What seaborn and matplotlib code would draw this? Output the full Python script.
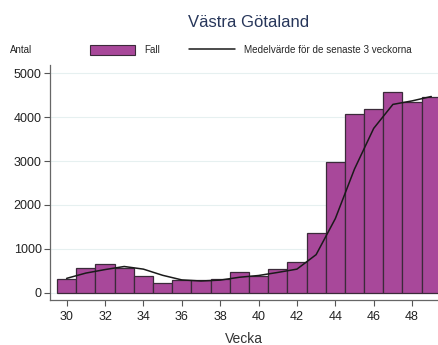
import numpy as np
import pandas as pd
import matplotlib
matplotlib.use("Agg")
import matplotlib.pyplot as plt
import seaborn as sns
from matplotlib.patches import Patch
from matplotlib.lines import Line2D

# Weekly cases, Västra Götaland
weeks = [30, 31, 32, 33, 34, 35, 36, 37, 38, 39, 40, 41, 42, 43, 44, 45, 46, 47, 48, 49]
fall = [320, 565, 660, 560, 390, 230, 285, 285, 305, 480, 395, 535, 695, 1370, 2975, 4065, 4185, 4575, 4350, 4465]
# 3-week mean
medel = [330, 450, 530, 600, 540, 400, 295, 270, 290, 355, 395, 465, 540, 870, 1690, 2820, 3745, 4290, 4370, 4470]

weekly = pd.DataFrame({"Vecka": weeks, "Fall": fall, "Medel": medel})

sns.set_theme(style="white")
plt.rcParams["font.family"] = ["Liberation Sans", "DejaVu Sans"]

fig = plt.figure(figsize=(4.38, 3.45), dpi=100)
ax = fig.add_axes([0.114, 0.130, 0.886, 0.682])

bar_color = "#a8489a"
sns.barplot(data=weekly, x="Vecka", y="Fall", native_scale=True, width=1.0,
            color=bar_color, edgecolor="#3b2a3a", linewidth=0.9, saturation=1, ax=ax)
sns.lineplot(data=weekly, x="Vecka", y="Medel", color="#1a1a1a", linewidth=1.1, ax=ax)

ax.set_xlim(29.13, 49.35)
ax.set_ylim(-166, 5190)
ax.set_xticks(range(30, 50, 2))
ax.set_yticks([0, 1000, 2000, 3000, 4000, 5000])
ax.yaxis.grid(True, color="#e6f0f0", linewidth=0.8)
ax.set_axisbelow(True)
ax.tick_params(axis="both", direction="out", length=4, width=0.8, color="#555555",
               labelsize=9, labelcolor="#222222", pad=2, bottom=True, left=True)
ax.tick_params(axis="x", pad=4)
for side in ["top", "right"]:
    ax.spines[side].set_visible(False)
for side in ["left", "bottom"]:
    ax.spines[side].set_color("#666666")
    ax.spines[side].set_linewidth(0.9)

ax.set_xlabel("Vecka", fontsize=10, color="#333333", labelpad=6)
ax.set_ylabel("")

fig.text(0.567, 0.935, "Västra Götaland", ha="center", va="center", fontsize=12, color="#27365a")
fig.text(0.023, 0.855, "Antal", ha="left", va="center", fontsize=7, color="#222222")

handles = [Patch(facecolor=bar_color, edgecolor="#3b2a3a", linewidth=0.8),
           Line2D([0], [0], color="#1a1a1a", linewidth=1.1)]
fig.legend(handles, ["Fall", "Medelvärde för de senaste 3 veckorna"], loc="center",
           bbox_to_anchor=(0.572, 0.855), ncol=2, frameon=False, fontsize=7.1,
           handlelength=4.6, handleheight=1.3, columnspacing=3.0, handletextpad=0.9)

fig.savefig("out.png", dpi=100)
